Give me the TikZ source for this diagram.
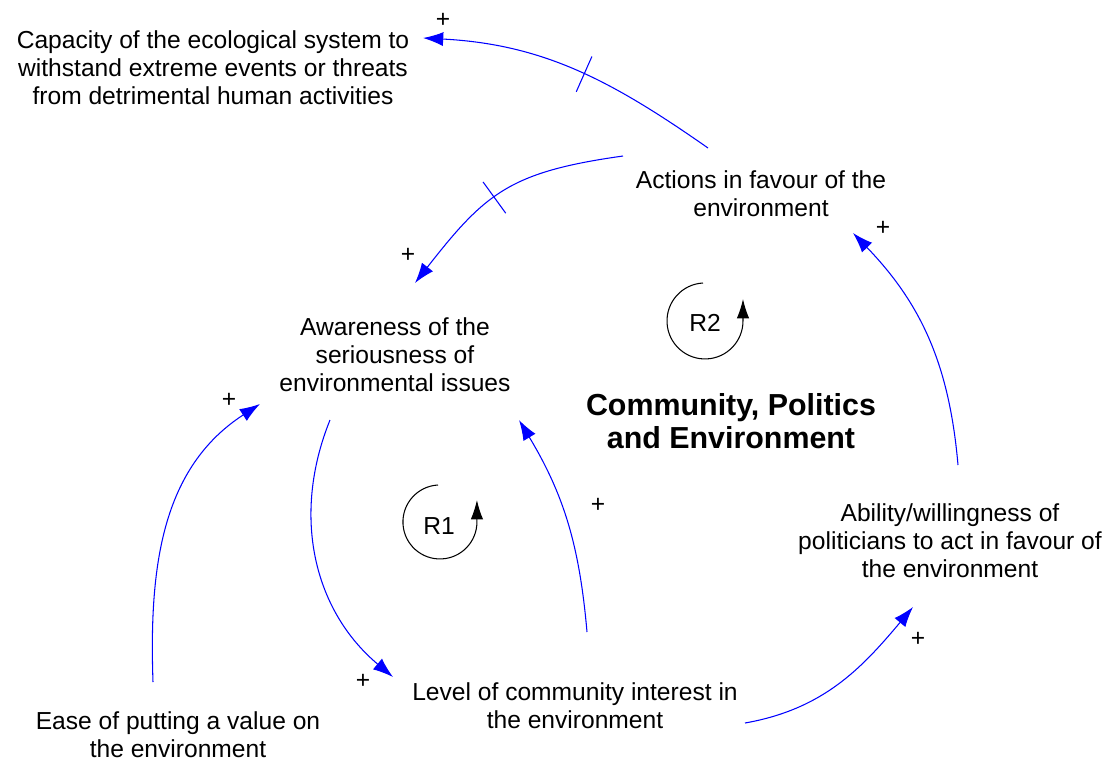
\documentclass[tikz,border=0pt]{standalone}
\usepackage{fontspec}
\setmainfont{Liberation Sans}
\usetikzlibrary{arrows.meta}

\begin{document}
\begin{tikzpicture}[x=0.02cm, y=-0.02cm]
    % Define styles
    \tikzstyle{varbox} = [font=\fontsize{14}{15.9}\selectfont, align=center, inner sep=0pt]
    \tikzstyle{headline} = [font=\fontsize{17.3}{18.7}\selectfont\bfseries, align=center, inner sep=0pt]
    \tikzstyle{polarity} = [font=\fontsize{14}{16}\selectfont, inner sep=0pt]
    \tikzstyle{line} = [draw, blue, line width=0.6pt, -{Latex[length=11.5pt, width=8pt]}]
    \tikzstyle{delaytick} = [draw, blue, line width=0.6pt, sloped, minimum width=0pt, minimum height=22pt, inner sep=0pt]
    \tikzstyle{loopsym} = [draw, black, line width=0.6pt, -{Latex[length=11pt, width=7pt]}]

    \useasboundingbox (0,0) rectangle (1109,761);

    % Nodes
    \node [varbox] (capacity) at (213,68) {Capacity of the ecological system to\\withstand extreme events or threats\\from detrimental human activities};
    \node [varbox] (actions) at (761,194) {Actions in favour of the\\environment};
    \node [varbox] (awareness) at (395,355) {Awareness of the\\seriousness of\\environmental issues};
    \node [headline] (title) at (731,421) {Community, Politics\\and Environment};
    \node [varbox] (ability) at (950,541) {Ability/willingness of\\politicians to act in favour of\\the environment};
    \node [varbox] (interest) at (575,706) {Level of community interest in\\the environment};
    \node [varbox] (ease) at (178,735) {Ease of putting a value on\\the environment};

    % Loop markers
    \node [varbox] (r1) at (439,526) {R1};
    \node [varbox] (r2) at (705,323) {R2};
    \path [loopsym] ([shift={(-1,-41)}]r1.center) arc[start angle=267, end angle=0, radius=37] -- ++(0,-22);
    \path [loopsym] ([shift={(-2,-40)}]r2.center) arc[start angle=267, end angle=0, radius=38] -- ++(0,-22);

    % Lines
    \path [line] ([shift={(-53,-46)}]actions.center) to[out=145, in=-3] node[delaytick, pos=0.46] {} ([shift={(210,-30)}]capacity.center);
    \path [line] ([shift={(-138,-38)}]actions.center) to[out=188, in=52, looseness=1.2] node[delaytick, pos=0.55] {} ([shift={(20,-72)}]awareness.center);
    \path [line] ([shift={(-65,65)}]awareness.center) to[out=248, in=140] ([shift={(-182,-29)}]interest.center);
    \path [line] ([shift={(12,-74)}]interest.center) to[out=95, in=-59] ([shift={(124,65)}]awareness.center);
    \path [line] ([shift={(-25,-53)}]ease.center) to[out=92, in=213] ([shift={(-135,49)}]awareness.center);
    \path [line] ([shift={(170,17)}]interest.center) to[out=10, in=230] ([shift={(-37,66)}]ability.center);
    \path [line] ([shift={(8,-76)}]ability.center) to[out=95, in=-46] ([shift={(92,39)}]actions.center);

    % Polarities
    \node [polarity] (p1) at (443,20) {+};
    \node [polarity] (p2) at (408,255) {+};
    \node [polarity] (p3) at (363,681) {+};
    \node [polarity] (p4) at (598,505) {+};
    \node [polarity] (p5) at (229,400) {+};
    \node [polarity] (p6) at (918,639) {+};
    \node [polarity] (p7) at (883,228) {+};
\end{tikzpicture}
\end{document}
